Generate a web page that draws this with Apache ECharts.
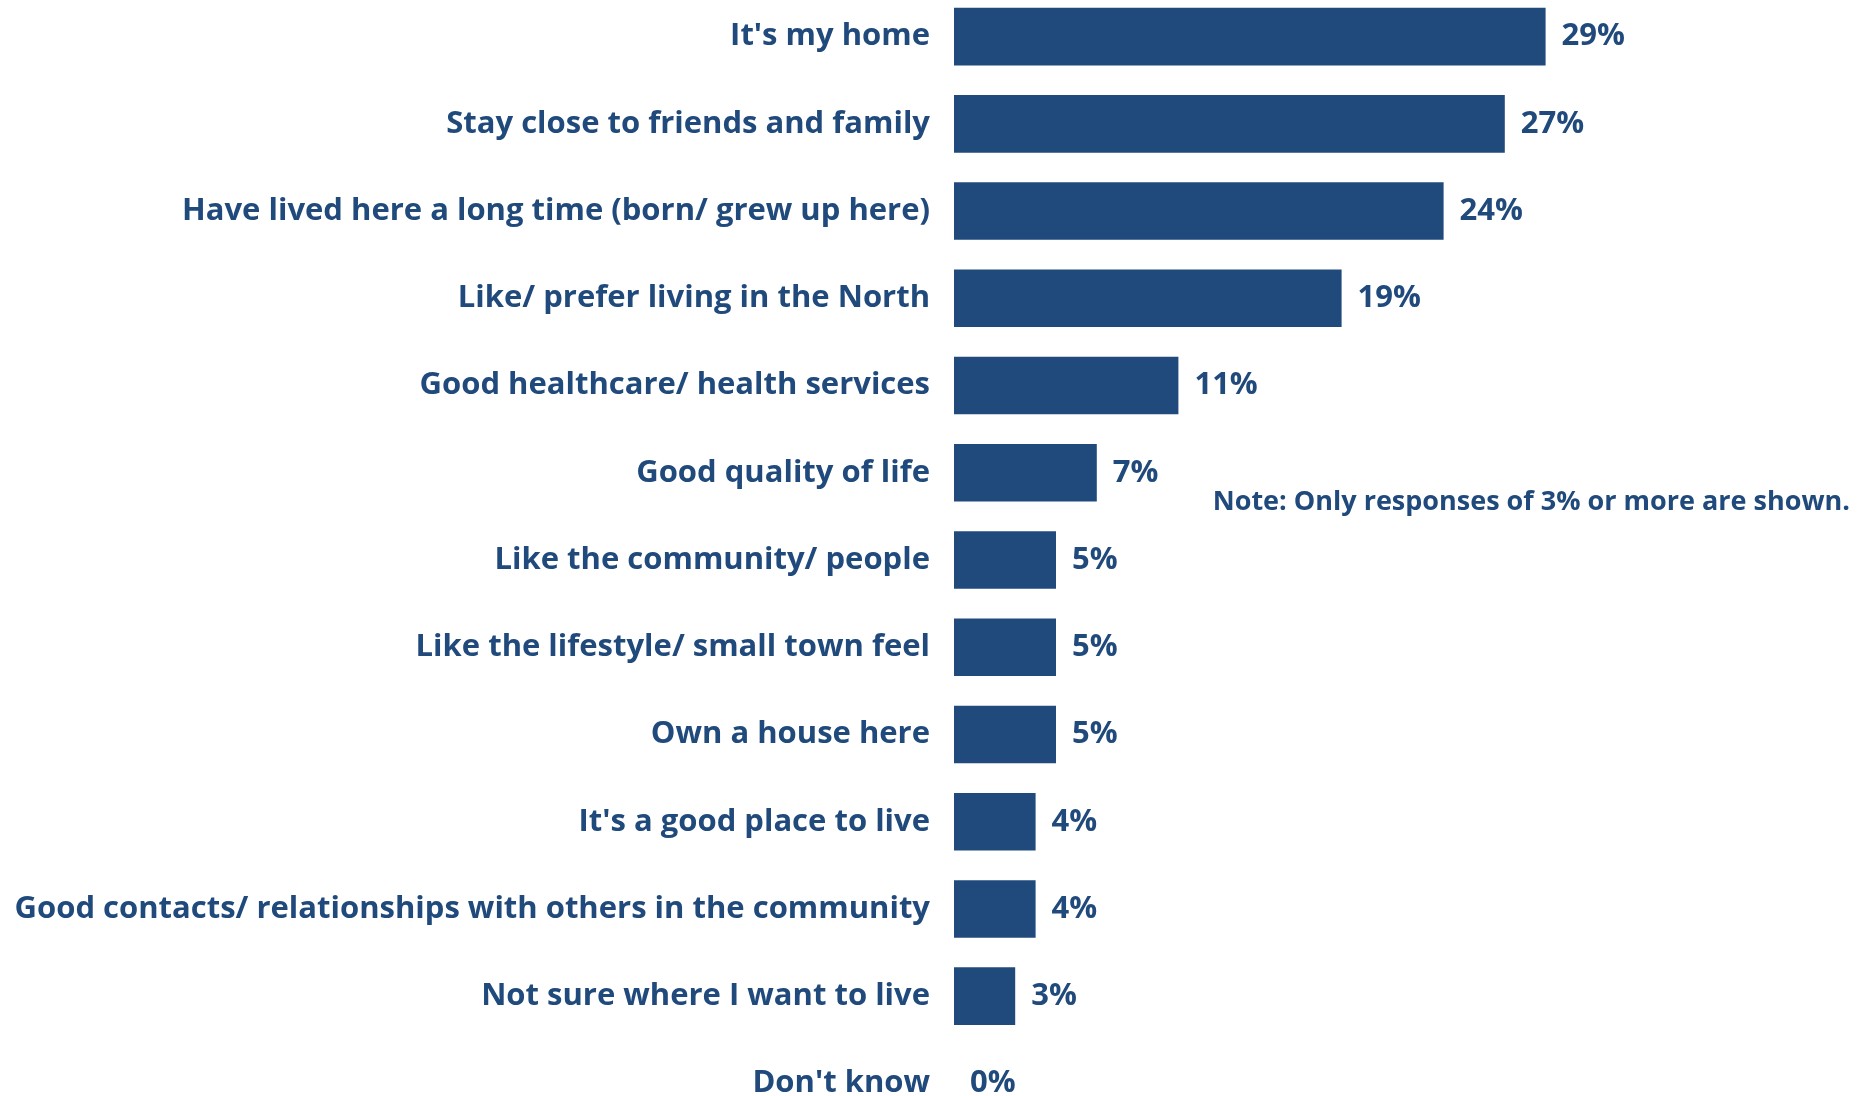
<!DOCTYPE html>
<html>
<head>
<meta charset="utf-8">
<script src="https://cdn.jsdelivr.net/npm/echarts@6/dist/echarts.min.js"></script>
<style>
  html, body { margin: 0; padding: 0; background: #ffffff; }
  #chart { width: 1873px; height: 1096px; }
</style>
</head>
<body>
<div id="chart"></div>
<script>
// Reasons for staying, share of responses (%)
const categories = [
  "It's my home",
  "Stay close to friends and family",
  "Have lived here a long time (born/ grew up here)",
  "Like/ prefer living in the North",
  "Good healthcare/ health services",
  "Good quality of life",
  "Like the community/ people",
  "Like the lifestyle/ small town feel",
  "Own a house here",
  "It's a good place to live",
  "Good contacts/ relationships with others in the community",
  "Not sure where I want to live",
  "Don't know"
];
const values = [29, 27, 24, 19, 11, 7, 5, 5, 5, 4, 4, 3, 0];
const noteText = "Note: Only responses of 3% or more are shown.";

const navy = '#214A7C';
const fontFamily = '"Open Sans", Lato, sans-serif';

const chart = echarts.init(document.getElementById('chart'), null, { renderer: 'canvas' });

chart.setOption({
  animation: false,
  backgroundColor: '#ffffff',
  grid: {
    left: 954,
    width: 612,
    top: -7,
    height: 1134,
    containLabel: false,
    outerBoundsMode: 'none'
  },
  xAxis: {
    type: 'value',
    min: 0,
    max: 30,
    show: false
  },
  yAxis: {
    type: 'category',
    data: categories,
    inverse: true,
    axisLine: { show: false },
    axisTick: { show: false },
    splitLine: { show: false },
    axisLabel: {
      margin: 24,
      color: navy,
      fontFamily: fontFamily,
      fontWeight: 'bold',
      fontSize: 31,
      padding: [5, 0, 0, 0]
    }
  },
  series: [{
    type: 'bar',
    data: values,
    barWidth: '66%',
    itemStyle: { color: navy },
    label: {
      show: true,
      position: 'right',
      distance: 16,
      formatter: '{c}%',
      color: navy,
      fontFamily: fontFamily,
      fontWeight: 'bold',
      fontSize: 31,
      padding: [6, 0, 0, 0]
    }
  }],
  graphic: [{
    type: 'text',
    right: 23,
    top: 489,
    style: {
      text: noteText,
      fill: navy,
      font: 'bold 27px ' + fontFamily
    }
  }]
});
</script>
</body>
</html>
